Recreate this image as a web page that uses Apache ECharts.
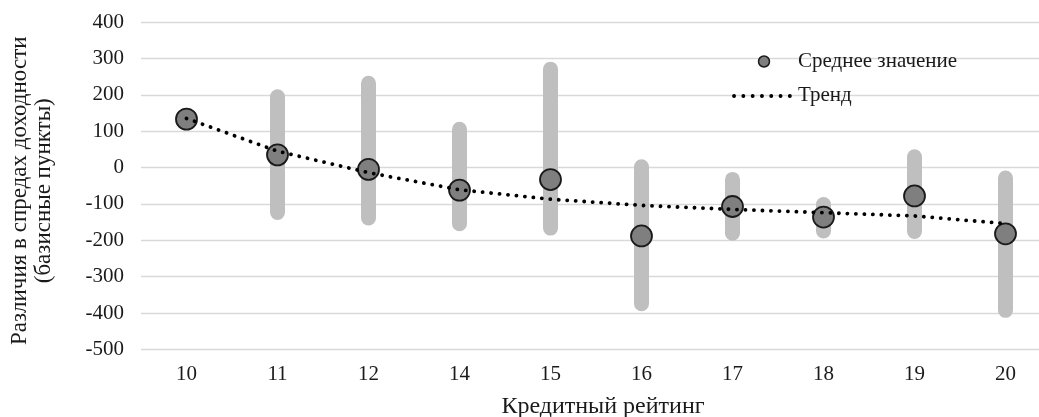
<!DOCTYPE html>
<html>
<head>
<meta charset="utf-8">
<script src="https://cdn.jsdelivr.net/npm/echarts@6/dist/echarts.min.js"></script>
<style>
  html, body { margin: 0; padding: 0; background: #fff; }
  #chart { width: 1039px; height: 417px; }
</style>
</head>
<body>
<div id="chart"></div>
<script>
// Credit rating categories
const categories = ['10', '11', '12', '14', '15', '16', '17', '18', '19', '20'];
// Mean spread difference per rating (bp)
const meanValues = [133, 35, -5, -62, -33, -188, -107, -136, -78, -182];
// Range of spread differences (bp); rating 10 has no range
const rangeLow = [null, -144, -159, -175, -187, -395, -201, -195, -196, -413];
const rangeHigh = [null, 215, 252, 126, 291, 23, -12, -81, 50, -8];
// Trend line values
const trendValues = [135, 45, -14, -61, -87, -104, -115, -124, -133, -154];
// Y axis ticks
const yMin = -500, yMax = 400, yStep = 100;
// Legend labels
const meanLabel = 'Среднее значение';
const trendLabel = 'Тренд';

const font = '"Liberation Serif", "Times New Roman", serif';
const textColor = '#1a1a1a';
const markerFill = '#7f7f7f';
const markerStroke = '#1a1a1a';
const dotPeriod = 8.4;
const dotWidth = 3.8;

const rangeData = categories.map((c, i) => [i, rangeLow[i], rangeHigh[i]]);

const chart = echarts.init(document.getElementById('chart'), null, { renderer: 'canvas' });

// Legend block (upper right of the plot)
const legendX = 734, legendRow1 = 61.5, legendRow2 = 96;
const legendGraphic = [
  {
    type: 'circle', silent: true, z: 10,
    shape: { cx: legendX + 30, cy: legendRow1, r: 5.5 },
    style: { fill: markerFill, stroke: markerStroke, lineWidth: 1.5 }
  },
  {
    type: 'line', silent: true, z: 10,
    shape: { x1: legendX, y1: legendRow2, x2: legendX + 57, y2: legendRow2 },
    style: { stroke: '#000', lineWidth: dotWidth, lineDash: [0.1, 9.2], lineCap: 'round' }
  },
  {
    type: 'text', silent: true, z: 10,
    x: 798, y: legendRow1,
    style: { text: meanLabel, font: '21px ' + font, fill: textColor, verticalAlign: 'middle', align: 'left' }
  },
  {
    type: 'text', silent: true, z: 10,
    x: 798, y: legendRow2 - 1,
    style: { text: trendLabel, font: '21px ' + font, fill: textColor, verticalAlign: 'middle', align: 'left' }
  }
];

chart.setOption({
  animation: false,
  textStyle: { fontFamily: font, color: textColor },
  grid: {
    left: 141, right: -12, top: 22, bottom: 67.5,
    containLabel: false,
    outerBoundsMode: 'none'
  },
  graphic: legendGraphic,
  xAxis: {
    type: 'category',
    data: categories,
    boundaryGap: true,
    axisLine: { show: false },
    axisTick: { show: false },
    axisLabel: { fontFamily: font, fontSize: 21, color: textColor, margin: 14 },
    name: 'Кредитный рейтинг',
    nameLocation: 'middle',
    nameGap: 45,
    nameTextStyle: { fontFamily: font, fontSize: 24, color: textColor, padding: [0, 0, 0, 14] }
  },
  yAxis: {
    type: 'value',
    min: yMin,
    max: yMax,
    interval: yStep,
    axisLine: { show: false },
    axisTick: { show: false },
    splitLine: { lineStyle: { color: '#d9d9d9', width: 1.3 } },
    axisLabel: { fontFamily: font, fontSize: 21, color: textColor, margin: 17 },
    name: 'Различия в спредах доходности\n(базисные пункты)',
    nameLocation: 'middle',
    nameRotate: 90,
    nameGap: 85,
    nameTextStyle: { fontFamily: font, fontSize: 23, color: textColor, lineHeight: 24, padding: [0, 10, 0, 0] }
  },
  series: [
    {
      name: 'Диапазон',
      type: 'custom',
      data: rangeData,
      z: 1,
      renderItem: function (params, api) {
        const low = api.value(1), high = api.value(2);
        if (low == null || high == null || isNaN(low) || isNaN(high)) return null;
        const top = api.coord([api.value(0), high]);
        const bottom = api.coord([api.value(0), low]);
        const w = 15;
        return {
          type: 'rect',
          shape: { x: top[0] - w / 2, y: top[1], width: w, height: bottom[1] - top[1], r: w / 2 },
          style: { fill: '#bfbfbf' }
        };
      }
    },
    {
      name: meanLabel,
      type: 'scatter',
      data: meanValues,
      symbol: 'circle',
      symbolSize: 21,
      z: 2,
      itemStyle: { color: markerFill, borderColor: markerStroke, borderWidth: 1.8, opacity: 1 }
    },
    {
      name: trendLabel,
      type: 'line',
      data: trendValues,
      symbol: 'none',
      smooth: false,
      z: 3,
      lineStyle: { color: '#000', width: dotWidth, type: [0.1, dotPeriod], cap: 'round' }
    }
  ]
});
</script>
</body>
</html>
